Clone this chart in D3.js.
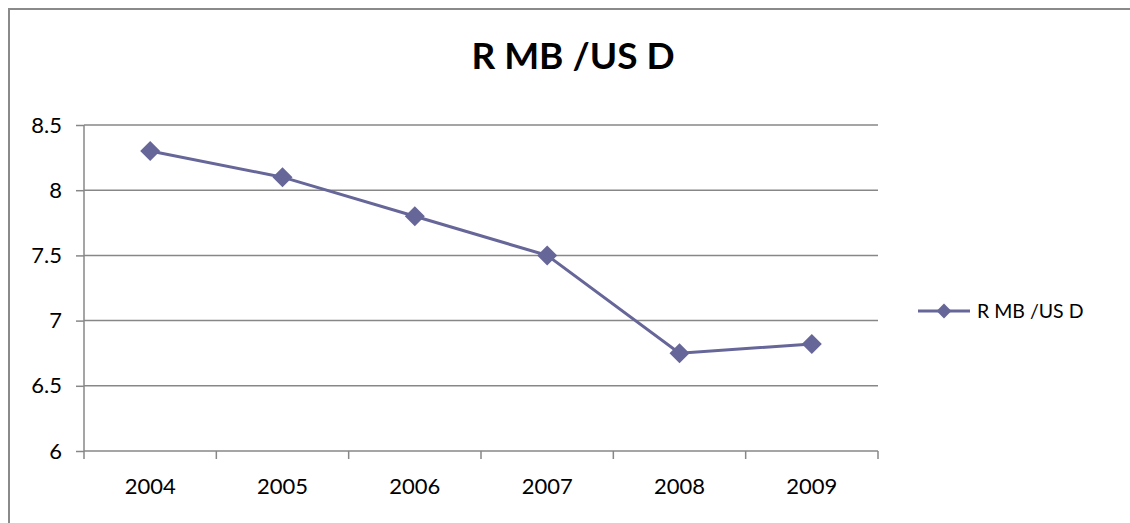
<!DOCTYPE html>
<html><head><meta charset="utf-8">
<script src="https://cdn.jsdelivr.net/npm/d3@7/dist/d3.min.js"></script>
<style>body{margin:0;background:#fff}svg{display:block}</style>
</head><body>
<svg id="c" width="1130" height="523"></svg>
<script>
const years = ["2004","2005","2006","2007","2008","2009"];
const rates = [8.3, 8.1, 7.8, 7.5, 6.75, 6.82];
const yTicks = [6, 6.5, 7, 7.5, 8, 8.5];
const yTickLabels = ["6","6.5","7","7.5","8","8.5"];
const seriesName = "R MB /US D";
const titleText = "R MB /US D";

const svg = d3.select("#c");
const col = "#666699", grid = "#878787", font = "Lato, 'Open Sans', sans-serif";
const L = 84, R = 878, T = 125, B = 451;

svg.append("path").attr("d", `M9,530 L9,9 L1135,9`).attr("fill","none")
  .attr("stroke", "#8a8a8a").attr("stroke-width", 2);

const x = d3.scaleBand().domain(years).range([L, R]);
const y = d3.scaleLinear().domain([6, 8.5]).range([B, T]);

// gridlines
svg.append("g").selectAll("line").data(yTicks.filter(d => d > 6)).join("line")
  .attr("x1", L).attr("x2", R).attr("y1", d => y(d)).attr("y2", d => y(d))
  .attr("stroke", grid).attr("stroke-width", 1.5);

// y axis
const ya = svg.append("g").attr("transform", `translate(${L},0)`)
  .call(d3.axisLeft(y).tickValues(yTicks).tickFormat((d,i) => yTickLabels[i]).tickSize(8).tickPadding(14));
ya.select(".domain").attr("stroke", grid).attr("stroke-width", 1.5).attr("d", `M0,${T}V${B}`);
ya.selectAll(".tick line").attr("stroke", grid).attr("stroke-width", 1.5);
ya.selectAll("text").attr("font-family", font).attr("font-size", 22).attr("fill", "#000");

// x axis
const xa = svg.append("g").attr("transform", `translate(0,${B})`)
  .call(d3.axisBottom(x).tickSize(0).tickPadding(27));
xa.select(".domain").attr("stroke", grid).attr("stroke-width", 1.5).attr("d", `M${L},0H${R}`);
xa.selectAll(".tick line").remove();
xa.selectAll("text").attr("font-family", font).attr("font-size", 22).attr("fill", "#000");
const bounds = years.map(d => x(d)).concat([R]);
xa.append("g").selectAll("line").data(bounds).join("line")
  .attr("x1", d => d).attr("x2", d => d).attr("y1", 0).attr("y2", 8)
  .attr("stroke", grid).attr("stroke-width", 1.5);

// line
const cx = d => x(d) + x.bandwidth()/2;
svg.append("path").datum(rates.map((v,i) => [cx(years[i]), y(v)]))
  .attr("d", d3.line()).attr("fill", "none").attr("stroke", col).attr("stroke-width", 3);
const diamond = d3.symbol().type(d3.symbolSquare).size(200);
svg.append("g").selectAll("path").data(rates).join("path")
  .attr("d", diamond)
  .attr("transform", (d,i) => `translate(${cx(years[i])},${y(d)}) rotate(45)`)
  .attr("fill", col);

// title
svg.append("text").attr("x", 573).attr("y", 69).attr("text-anchor", "middle")
  .attr("font-family", font).attr("font-weight", "bold").attr("font-size", 37)
  .attr("fill", "#000").text(titleText);

// legend
const lg = svg.append("g");
lg.append("line").attr("x1", 918).attr("x2", 970).attr("y1", 311).attr("y2", 311)
  .attr("stroke", col).attr("stroke-width", 3);
lg.append("path").attr("d", d3.symbol().type(d3.symbolSquare).size(110))
  .attr("transform", "translate(944,311) rotate(45)").attr("fill", col);
lg.append("text").attr("x", 977).attr("y", 318).attr("font-family", font)
  .attr("font-size", 19.5).attr("fill", "#000").text(seriesName);
</script>
</body></html>
